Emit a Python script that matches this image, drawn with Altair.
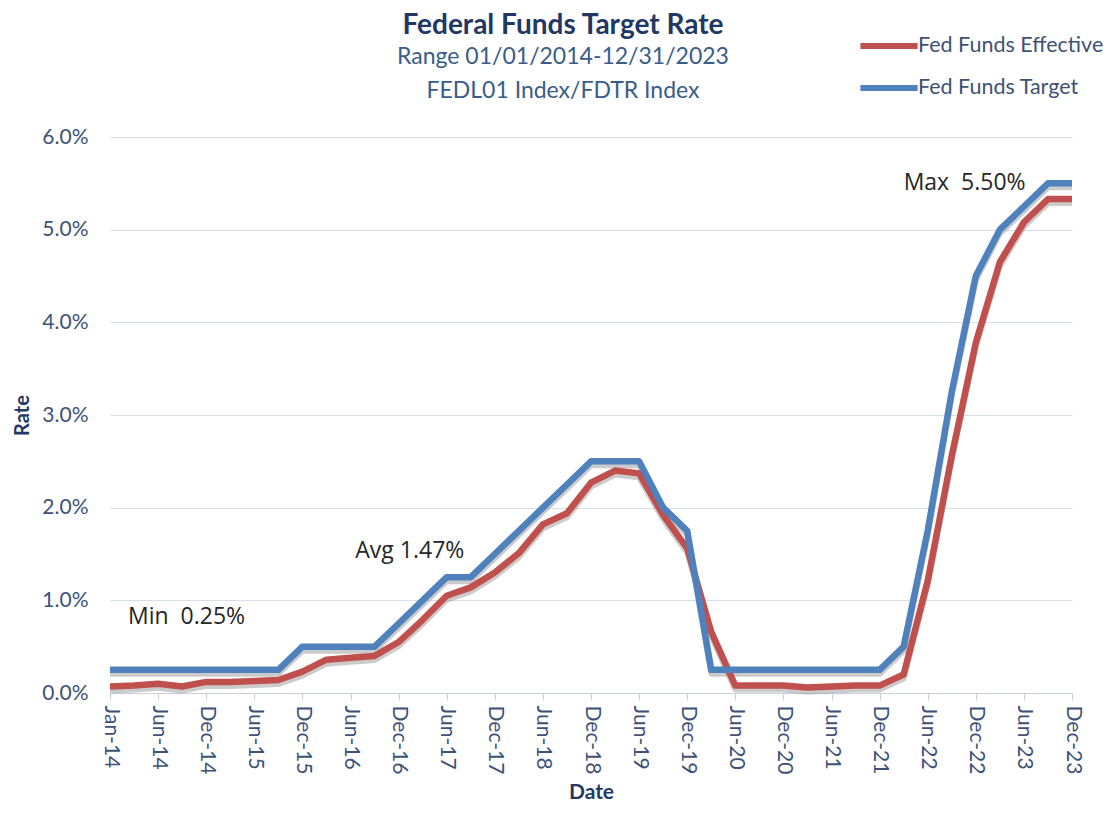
import json
import altair as alt
import pandas as pd

# ---- data ----
dates = ["Jan-14", "Mar-14", "Jun-14", "Sep-14", "Dec-14",
         "Mar-15", "Jun-15", "Sep-15", "Dec-15",
         "Mar-16", "Jun-16", "Sep-16", "Dec-16",
         "Mar-17", "Jun-17", "Sep-17", "Dec-17",
         "Mar-18", "Jun-18", "Sep-18", "Dec-18",
         "Mar-19", "Jun-19", "Sep-19", "Dec-19",
         "Mar-20", "Jun-20", "Sep-20", "Dec-20",
         "Mar-21", "Jun-21", "Sep-21", "Dec-21",
         "Mar-22", "Jun-22", "Sep-22", "Dec-22",
         "Mar-23", "Jun-23", "Sep-23", "Dec-23"]

fed_target = [0.25, 0.25, 0.25, 0.25, 0.25, 0.25, 0.25, 0.25, 0.50,
              0.50, 0.50, 0.50, 0.75, 1.00, 1.25, 1.25, 1.50,
              1.75, 2.00, 2.25, 2.50, 2.50, 2.50, 2.00, 1.75,
              0.25, 0.25, 0.25, 0.25, 0.25, 0.25, 0.25, 0.25,
              0.50, 1.75, 3.25, 4.50, 5.00, 5.25, 5.50, 5.50]

fed_effective = [0.07, 0.08, 0.10, 0.07, 0.12, 0.12, 0.13, 0.14, 0.23,
                 0.36, 0.38, 0.40, 0.55, 0.79, 1.05, 1.14, 1.30,
                 1.51, 1.82, 1.94, 2.27, 2.40, 2.37, 1.92, 1.56,
                 0.66, 0.08, 0.08, 0.08, 0.06, 0.07, 0.08, 0.08,
                 0.20, 1.21, 2.56, 3.78, 4.65, 5.08, 5.33, 5.33]

series_names = ["Fed Funds Effective", "Fed Funds Target"]
series_colors = ["#c0504d", "#4f81bd"]

y_ticks = [0, 1, 2, 3, 4, 5, 6]

ann_text = ["Min\u00a0 0.25%", "Avg 1.47%", "Max\u00a0 5.50%"]
ann_x = [0.75, 10.2, 33.0]
ann_y = [0.82, 1.53, 5.50]

# ---- tables ----
rows = []
for i, d in enumerate(dates):
    rows.append({"idx": i, "date": d, "series": series_names[0], "rate": fed_effective[i]})
    rows.append({"idx": i, "date": d, "series": series_names[1], "rate": fed_target[i]})
df = pd.DataFrame(rows)
ann = pd.DataFrame({"text": ann_text, "x": ann_x, "y": ann_y})

label_array = json.dumps(dates).replace('"', "'")
x_label_expr = f"datum.value % 2 == 0 ? {label_array}[datum.value] : ''"

BODY = "Lato"
AXIS_COLOR = "#3d5276"
TITLE_COLOR = "#1f3864"

x_scale = alt.Scale(domain=[0, len(dates) - 1], nice=False, zero=False)
y_scale = alt.Scale(domain=[0, 6], nice=False)

x_enc = alt.X("idx:Q", scale=x_scale,
              axis=alt.Axis(values=list(range(len(dates))), labelExpr=x_label_expr,
                            labelAngle=90, labelFont=BODY, labelFontSize=21,
                            labelColor=AXIS_COLOR, labelPadding=5, tickSize=7,
                            tickColor="#c9d0dc", domainColor="#c9d0dc", grid=False,
                            labelOverlap=False,
                            title="Date", titleFont=BODY, titleFontSize=21,
                            titleFontWeight="bold", titleColor=TITLE_COLOR,
                            titlePadding=8))
y_enc = alt.Y("rate:Q", scale=y_scale,
              axis=alt.Axis(values=y_ticks, labelExpr="format(datum.value, '.1f') + '%'",
                            labelFont=BODY, labelFontSize=21, labelColor=AXIS_COLOR,
                            labelPadding=22, ticks=False, domain=False, grid=True,
                            gridColor="#d9dfea", title="Rate", titleFont=BODY,
                            titleFontSize=20, titleFontWeight="bold",
                            titleColor=TITLE_COLOR, titlePadding=9))

shadow = alt.Chart(df).mark_line(color="#8c8c8c", strokeWidth=6, opacity=0.45,
                                 yOffset=4, strokeJoin="round").encode(
    x=x_enc, y=y_enc, detail="series:N")

lines = alt.Chart(df).mark_line(strokeWidth=6.5, strokeJoin="round").encode(
    x=x_enc, y=y_enc,
    color=alt.Color("series:N",
                    scale=alt.Scale(domain=series_names, range=series_colors),
                    legend=alt.Legend(title=None, orient="none", legendX=756, legendY=-114,
                                      symbolType="M-1.43,0H1.43", symbolSize=1600,
                                      symbolStrokeWidth=6, labelOffset=6,
                                      rowPadding=7, labelFont=BODY, labelFontSize=21.5,
                                      labelColor=AXIS_COLOR, labelLimit=300)))

notes = alt.Chart(ann).mark_text(align="left", baseline="middle", font="Open Sans",
                                 fontSize=23, color="#262626").encode(
    x=alt.X("x:Q", scale=x_scale), y=alt.Y("y:Q", scale=y_scale), text="text:N")

chart = alt.layer(shadow, lines, notes).properties(
    width=962, height=556,
    autosize=alt.AutoSizeParams(type="none"),
    padding={"left": 102, "top": 129, "right": 32, "bottom": 110},
    title=alt.TitleParams(
        text="Federal Funds Target Rate",
        subtitle=["Range 01/01/2014-12/31/2023", "FEDL01 Index/FDTR Index"],
        anchor="middle", dx=-28, offset=-80,
        font=BODY, fontSize=28, fontWeight="bold", color=TITLE_COLOR,
        subtitleFont=BODY, subtitleFontSize=23, subtitleColor="#385d8a",
        subtitlePadding=6, subtitleLineHeight=34),
).configure_view(stroke=None)

chart.save("out.html", embed_options={"renderer": "svg", "actions": False})
